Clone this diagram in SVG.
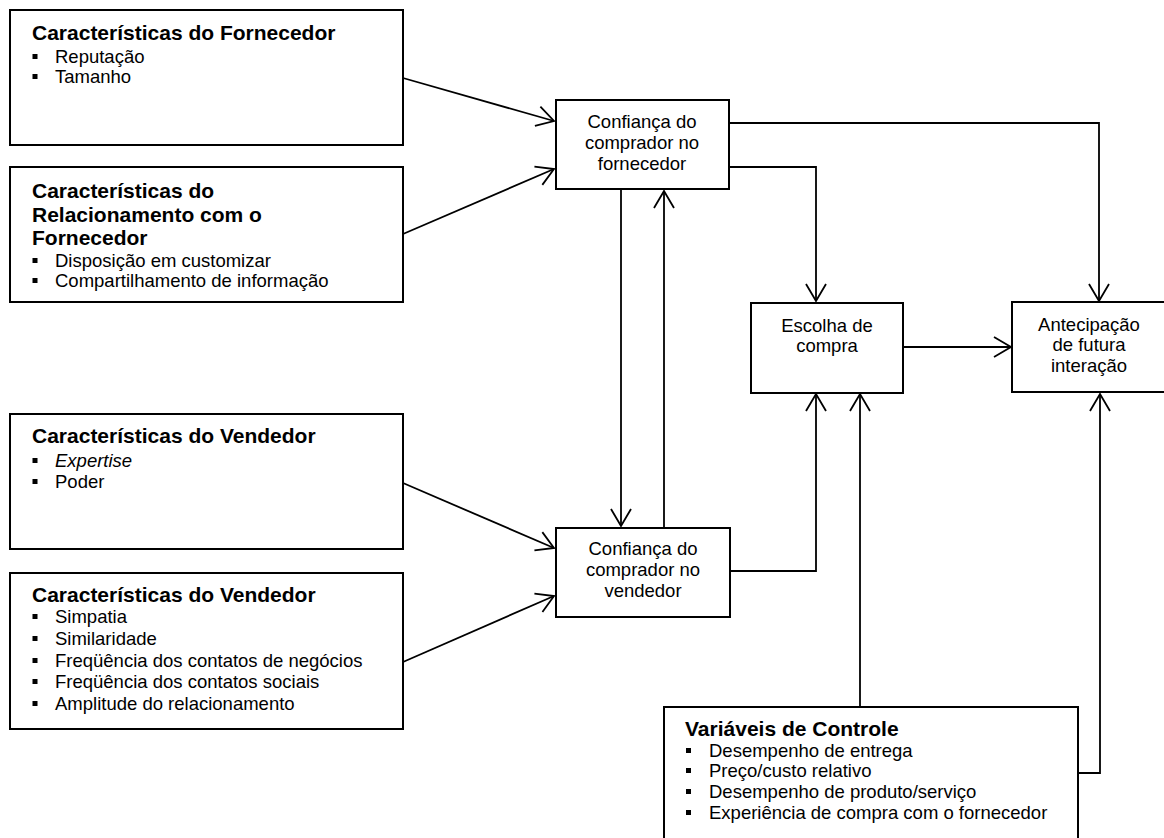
<svg xmlns="http://www.w3.org/2000/svg" width="1164" height="838" viewBox="0 0 1164 838">
<style>
.box{fill:#fff;stroke:#000;stroke-width:2}
.t{font-family:"Liberation Sans",Arial,sans-serif;font-weight:bold;font-size:21px;fill:#000}
.i{font-family:"Liberation Sans",Arial,sans-serif;font-size:18.5px;fill:#000}
.c{font-family:"Liberation Sans",Arial,sans-serif;font-size:18.5px;fill:#000;text-anchor:middle}
.b{fill:#000}
.ln{fill:none;stroke:#000;stroke-width:1.8}
</style>
<defs>
<marker id="arr" viewBox="-20 -12 22 24" refX="0" refY="0" markerWidth="22" markerHeight="24" markerUnits="userSpaceOnUse" orient="auto" overflow="visible">
<path d="M-17,-10 L0,0 L-17,10" fill="none" stroke="#000" stroke-width="1.8"/>
</marker>
</defs>
<rect width="1164" height="838" fill="#fff"/>

<g id="connectors">
<path class="ln" d="M403,78 L554,121" marker-end="url(#arr)"/>
<path class="ln" d="M403,234 L554,169" marker-end="url(#arr)"/>
<path class="ln" d="M403,483 L554,548" marker-end="url(#arr)"/>
<path class="ln" d="M403,662 L554,596" marker-end="url(#arr)"/>
<path class="ln" d="M729,123 L1099,123 L1099,301" marker-end="url(#arr)"/>
<path class="ln" d="M729,167 L816,167 L816,301" marker-end="url(#arr)"/>
<path class="ln" d="M621,190 L621,526" marker-end="url(#arr)"/>
<path class="ln" d="M664,528 L664,191" marker-end="url(#arr)"/>
<path class="ln" d="M730,571 L816,571 L816,394" marker-end="url(#arr)"/>
<path class="ln" d="M860,707 L860,394" marker-end="url(#arr)"/>
<path class="ln" d="M1078,773 L1100,773 L1100,394" marker-end="url(#arr)"/>
<path class="ln" d="M903,347 L1011,347" marker-end="url(#arr)"/>
</g>

<g id="fornecedor">
<rect class="box" x="10" y="10" width="393" height="135"/>
<text class="t" x="32" y="40">Características do Fornecedor</text>
<rect class="b" x="32.5" y="54" width="5" height="5"/>
<text class="i" x="55" y="63">Reputação</text>
<rect class="b" x="32.5" y="74" width="5" height="5"/>
<text class="i" x="55" y="83">Tamanho</text>
</g>

<g id="relacionamento">
<rect class="box" x="10" y="167" width="393" height="135"/>
<text class="t" x="32" y="198">Características do</text>
<text class="t" x="32" y="222">Relacionamento com o</text>
<text class="t" x="32" y="245">Fornecedor</text>
<rect class="b" x="32.5" y="258" width="5" height="5"/>
<text class="i" x="55" y="267">Disposição em customizar</text>
<rect class="b" x="32.5" y="278" width="5" height="5"/>
<text class="i" x="55" y="287">Compartilhamento de informação</text>
</g>

<g id="vendedor1">
<rect class="box" x="10" y="414" width="393" height="135"/>
<text class="t" x="32" y="443">Características do Vendedor</text>
<rect class="b" x="32.5" y="458" width="5" height="5"/>
<text class="i" x="55" y="467" font-style="italic">Expertise</text>
<rect class="b" x="32.5" y="479" width="5" height="5"/>
<text class="i" x="55" y="488">Poder</text>
</g>

<g id="vendedor2">
<rect class="box" x="10" y="573" width="393" height="156"/>
<text class="t" x="32" y="602">Características do Vendedor</text>
<rect class="b" x="32.5" y="614" width="5" height="5"/>
<text class="i" x="55" y="623">Simpatia</text>
<rect class="b" x="32.5" y="636" width="5" height="5"/>
<text class="i" x="55" y="645">Similaridade</text>
<rect class="b" x="32.5" y="658" width="5" height="5"/>
<text class="i" x="55" y="667">Freqüência dos contatos de negócios</text>
<rect class="b" x="32.5" y="679" width="5" height="5"/>
<text class="i" x="55" y="688">Freqüência dos contatos sociais</text>
<rect class="b" x="32.5" y="701" width="5" height="5"/>
<text class="i" x="55" y="710">Amplitude do relacionamento</text>
</g>

<g id="confianca-fornecedor">
<rect class="box" x="556" y="100" width="173" height="89"/>
<text class="c" x="642" y="128">Confiança do</text>
<text class="c" x="642" y="149">comprador no</text>
<text class="c" x="642" y="170">fornecedor</text>
</g>

<g id="confianca-vendedor">
<rect class="box" x="556" y="528" width="174" height="89"/>
<text class="c" x="643" y="555">Confiança do</text>
<text class="c" x="643" y="576">comprador no</text>
<text class="c" x="643" y="597">vendedor</text>
</g>

<g id="escolha">
<rect class="box" x="751" y="303" width="152" height="90"/>
<text class="c" x="827" y="332">Escolha de</text>
<text class="c" x="827" y="352">compra</text>
</g>

<g id="antecipacao">
<rect class="box" x="1012" y="302" width="170" height="90"/>
<text class="c" x="1089" y="331">Antecipação</text>
<text class="c" x="1089" y="351">de futura</text>
<text class="c" x="1089" y="372">interação</text>
</g>

<g id="controle">
<rect class="box" x="664" y="707" width="414" height="145"/>
<text class="t" x="685" y="736">Variáveis de Controle</text>
<rect class="b" x="686" y="748" width="5" height="5"/>
<text class="i" x="709" y="757">Desempenho de entrega</text>
<rect class="b" x="686" y="768" width="5" height="5"/>
<text class="i" x="709" y="777">Preço/custo relativo</text>
<rect class="b" x="686" y="789" width="5" height="5"/>
<text class="i" x="709" y="798">Desempenho de produto/serviço</text>
<rect class="b" x="686" y="810" width="5" height="5"/>
<text class="i" x="709" y="819">Experiência de compra com o fornecedor</text>
</g>
</svg>
